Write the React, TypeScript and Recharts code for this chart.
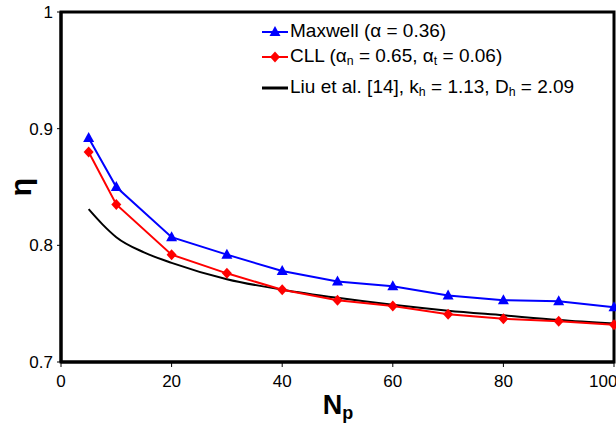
import React from 'react';
import { LineChart, Line, XAxis, YAxis, ReferenceArea } from 'recharts';

const xTicks = [0, 20, 40, 60, 80, 100];
const yTicks = [0.7, 0.8, 0.9, 1];

const maxwellNp = [5, 10, 20, 30, 40, 50, 60, 70, 80, 90, 100];
const maxwellEta = [0.892, 0.85, 0.807, 0.792, 0.778, 0.769, 0.765, 0.757, 0.753, 0.752, 0.747];

const cllNp = [5, 10, 20, 30, 40, 50, 60, 70, 80, 90, 100];
const cllEta = [0.88, 0.835, 0.792, 0.776, 0.762, 0.753, 0.748, 0.741, 0.737, 0.735, 0.732];

const liuNp = [5, 7.5, 10, 15, 20, 30, 40, 50, 60, 70, 80, 90, 100];
const liuEta = [0.831, 0.818, 0.807, 0.794, 0.785, 0.771, 0.762, 0.755, 0.749, 0.744, 0.74, 0.736, 0.733];

const toPoints = (xs: number[], ys: number[]) => xs.map((x, i) => ({ x, y: ys[i] }));

const BLUE = '#0000ff';
const RED = '#ff0000';
const FONT = '"Liberation Sans", Arial, sans-serif';

const Triangle = (props: any) => {
  const { cx, cy, index } = props;
  if (cx == null || cy == null) return null;
  return <polygon key={index} points={`${cx},${cy - 6} ${cx - 5.5},${cy + 4} ${cx + 5.5},${cy + 4}`} fill={BLUE} />;
};

const Diamond = (props: any) => {
  const { cx, cy, index } = props;
  if (cx == null || cy == null) return null;
  return <polygon key={index} points={`${cx},${cy - 5.5} ${cx + 5},${cy} ${cx},${cy + 5.5} ${cx - 5},${cy}`} fill={RED} />;
};

const LegendIcon = ({ color, shape }: { color: string; shape?: 'tri' | 'dia' }) => (
  <svg width={26} height={14} style={{ verticalAlign: 'middle', marginRight: 2 }}>
    <line x1={0} y1={7} x2={26} y2={7} stroke={color} strokeWidth={shape ? 2 : 3} />
    {shape === 'tri' && <polygon points="13,1 7.5,11 18.5,11" fill={color} />}
    {shape === 'dia' && <polygon points="13,1.5 18,7 13,12.5 8,7" fill={color} />}
  </svg>
);

const sub = { fontSize: '0.65em', verticalAlign: '-0.25em' } as React.CSSProperties;

export default function App() {
  return (
    <div style={{ position: 'relative', width: 616, height: 425, background: '#fff', fontFamily: FONT }}>
      <style>{'body{margin:0}'}</style>
      <LineChart width={616} height={425} margin={{ top: 12, right: 2, bottom: 33, left: 11 }}>
        <XAxis
          type="number"
          dataKey="x"
          domain={[0, 100]}
          ticks={xTicks}
          height={30}
          axisLine={{ stroke: '#000', strokeWidth: 3 }}
          tickLine={{ stroke: '#000' }}
          tickSize={5}
          tickMargin={8}
          tick={{ fill: '#000', fontSize: 17, fontFamily: FONT }}
        />
        <YAxis
          type="number"
          dataKey="y"
          domain={[0.7, 1]}
          ticks={yTicks}
          width={50}
          axisLine={{ stroke: '#000', strokeWidth: 3 }}
          tickLine={{ stroke: '#000' }}
          tickSize={4}
          tickMargin={4}
          tickFormatter={(v: number) => (v === 1 ? '1' : v.toFixed(1))}
          tick={{ fill: '#000', fontSize: 17, fontFamily: FONT }}
        />
        <ReferenceArea x1={0} x2={100} y1={0.7} y2={1} fill="none" stroke="#000" strokeWidth={3} ifOverflow="visible" />
        <Line
          data={toPoints(liuNp, liuEta)}
          dataKey="y"
          type="monotone"
          stroke="#000"
          strokeWidth={2}
          dot={false}
          isAnimationActive={false}
        />
        <Line
          data={toPoints(cllNp, cllEta)}
          dataKey="y"
          type="linear"
          stroke={RED}
          strokeWidth={2}
          dot={Diamond}
          isAnimationActive={false}
        />
        <Line
          data={toPoints(maxwellNp, maxwellEta)}
          dataKey="y"
          type="linear"
          stroke={BLUE}
          strokeWidth={2}
          dot={Triangle}
          isAnimationActive={false}
        />
      </LineChart>

      <div style={{ position: 'absolute', left: 262, top: 18, fontSize: 19, lineHeight: '25px', color: '#000', whiteSpace: 'nowrap' }}>
        <div><LegendIcon color={BLUE} shape="tri" />Maxwell (α = 0.36)</div>
        <div><LegendIcon color={RED} shape="dia" />CLL (α<span style={sub}>n</span> = 0.65, α<span style={sub}>t</span> = 0.06)</div>
        <div><LegendIcon color="#000" />Liu et al. [14], k<span style={sub}>h</span> = 1.13, D<span style={sub}>h</span> = 2.09</div>
      </div>

      <div style={{ position: 'absolute', left: 6, top: 172, width: 30, height: 30, display: 'flex', alignItems: 'center', justifyContent: 'center', transform: 'rotate(-90deg)', fontSize: 30, fontWeight: 'bold', lineHeight: 1 }}>
        η
      </div>

      <div style={{ position: 'absolute', left: 288, width: 100, top: 392, textAlign: 'center', fontSize: 27, fontWeight: 'bold', lineHeight: 1 }}>
        N<span style={{ fontSize: 18, verticalAlign: '-0.3em' }}>p</span>
      </div>
    </div>
  );
}
